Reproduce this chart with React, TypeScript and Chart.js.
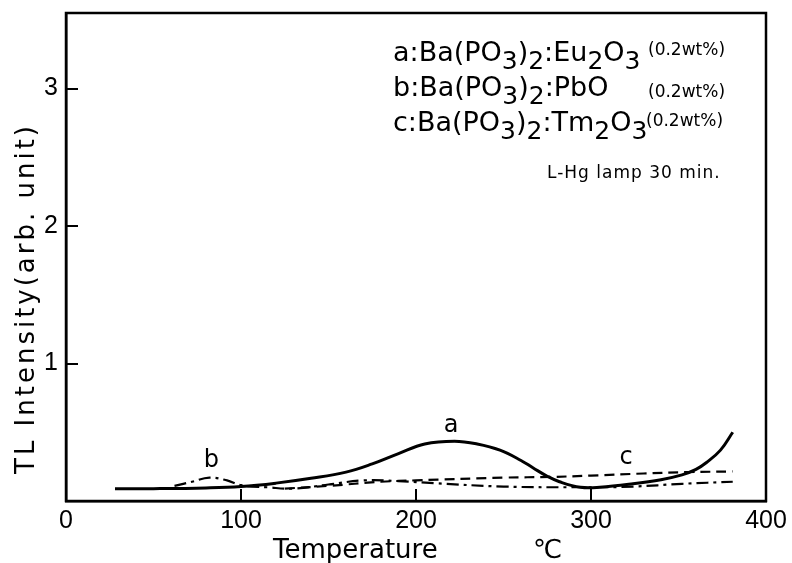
import React, { useEffect, useRef } from "react";
import { Chart, registerables } from "chart.js";

Chart.register(...registerables);

// ---- data ----
const aTemp = [28, 50, 80, 100, 120, 140, 160, 175, 190, 205, 222, 235, 248, 260, 267, 275, 282, 294, 305, 324, 340, 352, 360, 366, 374, 381];
const aVal = [0.09, 0.09, 0.095, 0.105, 0.13, 0.165, 0.21, 0.27, 0.345, 0.415, 0.435, 0.415, 0.37, 0.295, 0.24, 0.18, 0.14, 0.1, 0.1, 0.125, 0.155, 0.19, 0.23, 0.28, 0.37, 0.5];

const bTemp = [62, 72, 82, 92, 100, 115, 130, 150, 170, 190, 210, 250, 294, 324, 352, 381];
const bVal = [0.11, 0.14, 0.17, 0.15, 0.115, 0.1, 0.09, 0.12, 0.15, 0.145, 0.13, 0.105, 0.1, 0.105, 0.125, 0.14];

const cTemp = [125, 150, 180, 200, 250, 277, 300, 330, 355, 381];
const cVal = [0.09, 0.11, 0.14, 0.15, 0.17, 0.175, 0.185, 0.2, 0.21, 0.215];

const xTicks = [0, 100, 200, 300, 400];
const yTicks = [1, 2, 3];

const xTitle = "Temperature";
const xUnit = "℃";
const yTitle = "TL Intensity(arb. unit)";
const note = "L-Hg lamp 30 min.";
const wt = "(0.2wt%)";

// legend text pieces: [text, isSubscript]
const legendA: [string, boolean][] = [["a:Ba(PO", false], ["3", true], [")", false], ["2", true], [":Eu", false], ["2", true], ["O", false], ["3", true]];
const legendB: [string, boolean][] = [["b:Ba(PO", false], ["3", true], [")", false], ["2", true], [":PbO", false]];
const legendC: [string, boolean][] = [["c:Ba(PO", false], ["3", true], [")", false], ["2", true], [":Tm", false], ["2", true], ["O", false], ["3", true]];

// curve labels: [text, temperature, intensity]
const curveLabels: [string, number, number][] = [
  ["a", 220, 0.5],
  ["b", 83, 0.25],
  ["c", 320, 0.27],
];

const FONT = '"DejaVu Sans", sans-serif';
const NUMFONT = '"Liberation Sans", sans-serif';

const pts = (xs: number[], ys: number[]) => xs.map((x, i) => ({ x, y: ys[i] }));

const decorPlugin = {
  id: "decor",
  afterDraw(chart: any) {
    const { ctx, chartArea } = chart;
    const xs = chart.scales.x;
    const ys = chart.scales.y;
    ctx.save();
    ctx.setLineDash([]);
    ctx.strokeStyle = "#000";
    ctx.lineWidth = 2.5;
    ctx.strokeRect(chartArea.left, chartArea.top, chartArea.right - chartArea.left, chartArea.bottom - chartArea.top);
    // inward ticks
    ctx.lineWidth = 2;
    for (const v of xTicks.slice(1, -1)) {
      const px = Math.round(xs.getPixelForValue(v));
      ctx.beginPath();
      ctx.moveTo(px, chartArea.bottom);
      ctx.lineTo(px, chartArea.bottom - 12);
      ctx.stroke();
    }
    for (const v of yTicks) {
      const py = Math.round(ys.getPixelForValue(v));
      ctx.beginPath();
      ctx.moveTo(chartArea.left, py);
      ctx.lineTo(chartArea.left + 12, py);
      ctx.stroke();
    }

    ctx.fillStyle = "#000";
    // curve labels
    ctx.font = `24px ${FONT}`;
    ctx.textAlign = "center";
    ctx.textBaseline = "alphabetic";
    for (const [t, x, y] of curveLabels) {
      ctx.fillText(t, xs.getPixelForValue(x), ys.getPixelForValue(y));
    }

    // x title
    ctx.textAlign = "left";
    ctx.font = `26px ${FONT}`;
    ctx.fillText(xTitle, 273, 558);
    ctx.fillText(xUnit, 533, 558);

    // y title
    ctx.save();
    ctx.translate(34, 300);
    ctx.rotate(-Math.PI / 2);
    ctx.font = `26px ${FONT}`;
    (ctx as any).letterSpacing = "0px";
    const w0 = ctx.measureText(yTitle).width;
    const ls = Math.max(0, (348 - w0) / (yTitle.length - 1));
    (ctx as any).letterSpacing = `${ls}px`;
    ctx.textAlign = "left";
    ctx.fillText(yTitle, -174, 0);
    (ctx as any).letterSpacing = "0px";
    ctx.restore();

    // legend
    const drawRich = (parts: [string, boolean][], x: number, base: number) => {
      let cx = x;
      for (const [t, sub] of parts) {
        ctx.font = sub ? `25px ${FONT}` : `27px ${FONT}`;
        ctx.fillText(t, cx, sub ? base + 8 : base);
        cx += ctx.measureText(t).width;
      }
      return cx;
    };
    ctx.textAlign = "left";
    drawRich(legendA, 393, 61);
    drawRich(legendB, 393, 96);
    drawRich(legendC, 393, 131);
    ctx.font = `17px ${FONT}`;
    ctx.fillText(wt, 648, 55);
    ctx.fillText(wt, 648, 97);
    ctx.fillText(wt, 646, 126);
    ctx.font = `17px ${FONT}`;
    (ctx as any).letterSpacing = "1px";
    ctx.fillText(note, 547, 178);
    (ctx as any).letterSpacing = "0px";
    ctx.restore();
  },
};

export default function App() {
  const ref = useRef<HTMLCanvasElement>(null);
  useEffect(() => {
    const chart = new Chart(ref.current!, {
      type: "line",
      data: {
        datasets: [
          { label: "a", data: pts(aTemp, aVal), borderColor: "#000", borderWidth: 3, pointRadius: 0, tension: 0.4, fill: false },
          { label: "b", data: pts(bTemp, bVal), borderColor: "#000", borderWidth: 2.2, borderDash: [12, 5, 3, 5], pointRadius: 0, tension: 0.4, fill: false },
          { label: "c", data: pts(cTemp, cVal), borderColor: "#000", borderWidth: 2.2, borderDash: [10, 6], pointRadius: 0, tension: 0.4, fill: false },
        ],
      },
      options: {
        responsive: false,
        animation: false,
        layout: { padding: { top: 13, right: 26, left: 0, bottom: 0 } },
        plugins: { legend: { display: false }, tooltip: { enabled: false } },
        scales: {
          x: {
            type: "linear",
            min: 0,
            max: 400,
            afterBuildTicks: (s: any) => { s.ticks = xTicks.map((v) => ({ value: v })); },
            afterFit: (s: any) => { s.height = 62; s.paddingLeft = 0; s.paddingRight = 0; },
            ticks: { color: "#000", font: { family: NUMFONT, size: 25 }, padding: 5, maxRotation: 0, autoSkip: false },
            grid: { display: false, drawTicks: false },
            border: { display: true, color: "#000", width: 2.5 },
          },
          y: {
            type: "linear",
            min: 0,
            max: 3.55,
            afterBuildTicks: (s: any) => { s.ticks = yTicks.map((v) => ({ value: v })); },
            afterFit: (s: any) => { s.width = 66; s.paddingTop = 0; s.paddingBottom = 0; },
            ticks: { color: "#000", font: { family: NUMFONT, size: 25 }, padding: 8, autoSkip: false },
            grid: { display: false, drawTicks: false },
            border: { display: true, color: "#000", width: 2.5 },
          },
        },
      },
      plugins: [decorPlugin],
    } as any);
    return () => chart.destroy();
  }, []);
  return (
    <div style={{ position: "absolute", left: 0, top: 0, width: 792, height: 563, background: "#fff" }}>
      <canvas ref={ref} width={792} height={563} />
    </div>
  );
}
